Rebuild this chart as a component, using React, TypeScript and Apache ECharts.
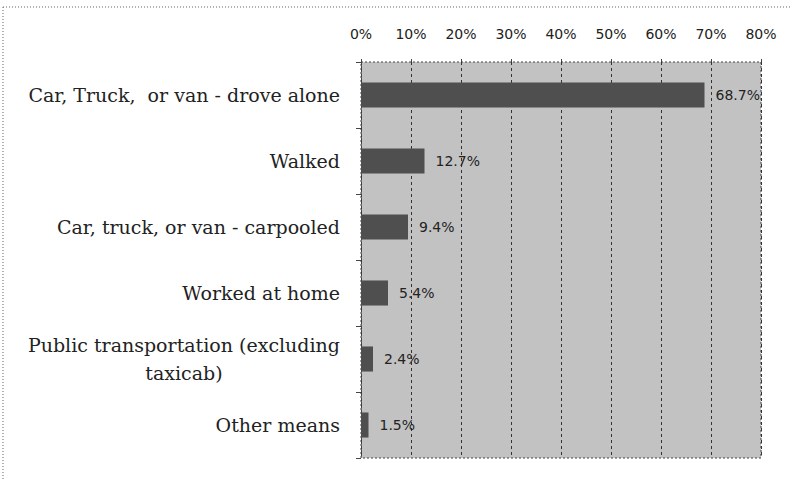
import React, { useEffect, useRef } from "react";
import * as echarts from "echarts";

const categories = [
  "Car, Truck,  or van - drove alone",
  "Walked",
  "Car, truck, or van - carpooled",
  "Worked at home",
  "Public transportation (excluding\ntaxicab)",
  "Other means",
];
const values = [0.687, 0.127, 0.094, 0.054, 0.024, 0.015];
const tickMax = 0.8;
const tickStep = 0.1;

export default function App() {
  const ref = useRef<HTMLDivElement>(null);
  useEffect(() => {
    if (!ref.current) return;
    const chart = echarts.init(ref.current, null, { renderer: "svg" });
    chart.setOption({
      animation: false,
      backgroundColor: "#ffffff",
      grid: {
        left: 361,
        right: 31,
        top: 62,
        bottom: 21,
        show: true,
        backgroundColor: "#c2c2c2",
        borderColor: "#444",
        borderWidth: 1,
        borderType: [2, 2],
      },
      xAxis: {
        type: "value",
        position: "top",
        min: 0,
        max: tickMax,
        interval: tickStep,
        axisLine: { show: false },
        axisTick: { show: true, length: 3, lineStyle: { color: "#444" } },
        axisLabel: {
          formatter: (v: number) => Math.round(v * 100) + "%",
          fontFamily: "DejaVu Sans",
          fontSize: 14,
          color: "#222",
          margin: 21,
        },
        splitLine: {
          show: true,
          lineStyle: { color: "#333", type: [3, 3], width: 1 },
        },
      },
      yAxis: {
        type: "category",
        inverse: true,
        data: categories,
        axisLine: { show: true, lineStyle: { color: "#444", type: [2, 2] } },
        axisTick: { show: true, length: 5, lineStyle: { color: "#444" } },
        axisLabel: {
          fontFamily: "DejaVu Serif",
          fontSize: 19,
          color: "#222",
          margin: 21,
          lineHeight: 28,
          formatter: (v: string) => {
            const parts = v.split("\n");
            if (parts.length === 1) return v;
            return "{a|" + parts[0] + "}\n{b|" + parts[1] + "}";
          },
          rich: {
            a: { fontFamily: "DejaVu Serif", fontSize: 19, color: "#222", lineHeight: 28 },
            b: {
              fontFamily: "DejaVu Serif",
              fontSize: 19,
              color: "#222",
              lineHeight: 28,
              width: 312,
              align: "center",
            },
          },
        },
      },
      series: [
        {
          type: "bar",
          data: values,
          barCategoryGap: "62%",
          itemStyle: { color: "#4f4f4f" },
          label: {
            show: true,
            position: "right",
            distance: 11,
            formatter: (p: any) => (p.value * 100).toFixed(1) + "%",
            fontFamily: "DejaVu Sans",
            fontSize: 14,
            color: "#222",
          },
        },
      ],
      graphic: [
        {
          type: "line",
          shape: { x1: 3, y1: 7, x2: 792, y2: 7 },
          style: { stroke: "#666", lineWidth: 1, lineDash: [1, 2] },
        },
        {
          type: "line",
          shape: { x1: 3, y1: 7, x2: 3, y2: 479 },
          style: { stroke: "#666", lineWidth: 1, lineDash: [1, 2] },
        },
      ],
    });
    return () => chart.dispose();
  }, []);
  return <div ref={ref} style={{ width: 792, height: 479, position: "fixed", left: 0, top: 0 }} />;
}
